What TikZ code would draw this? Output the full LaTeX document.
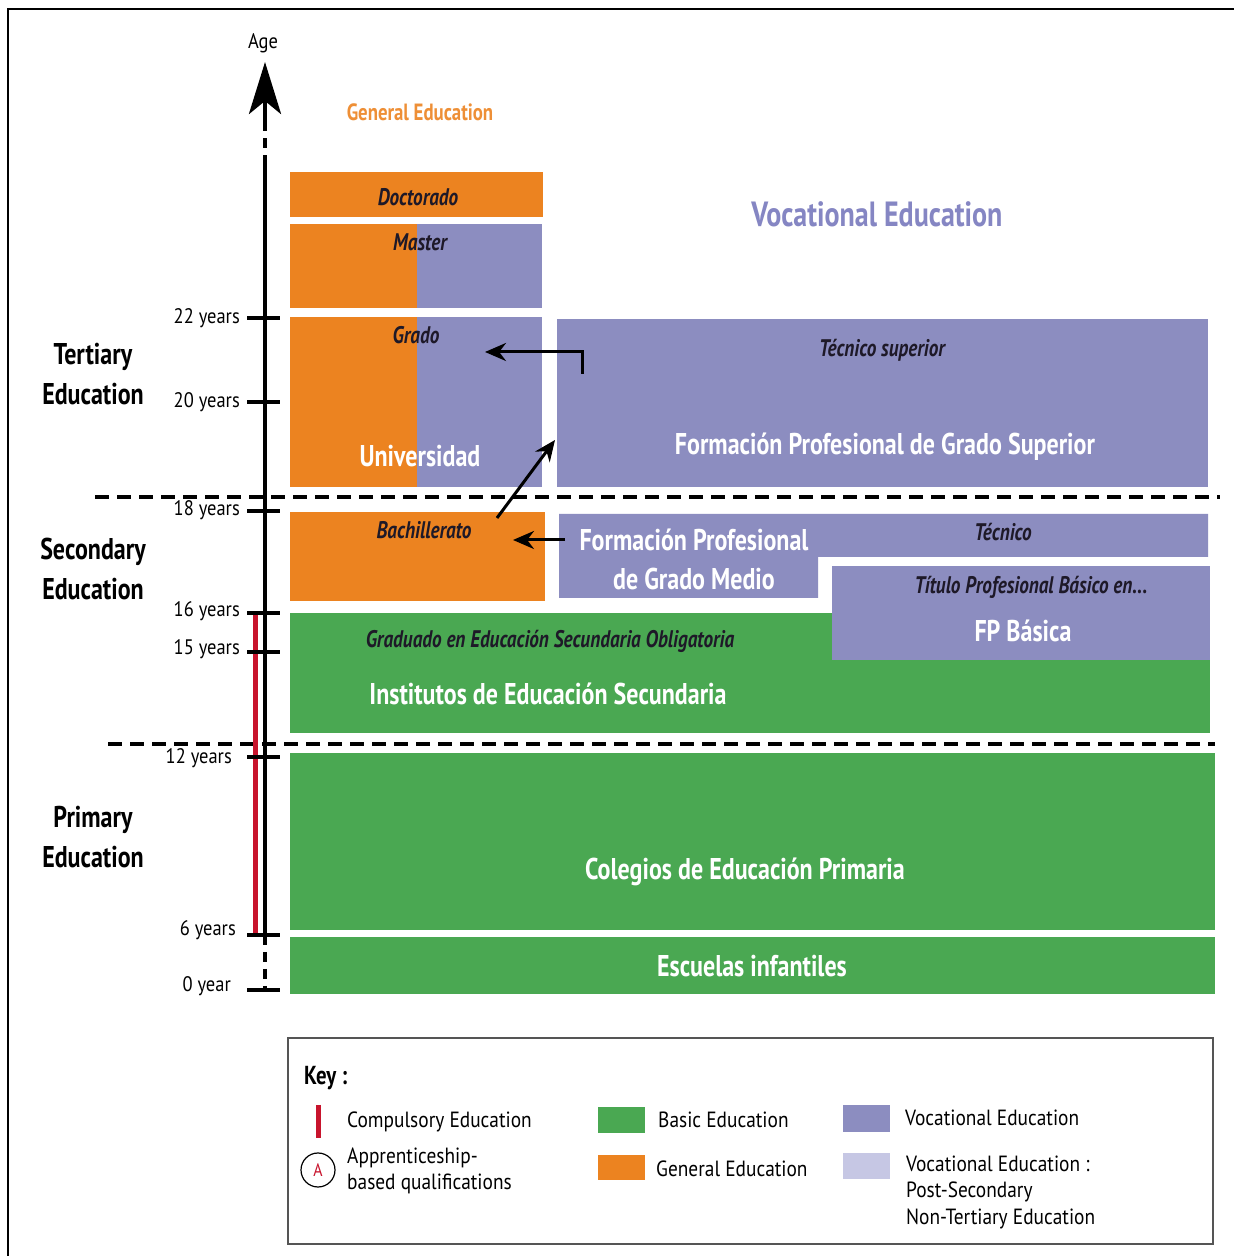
\documentclass[tikz,border=0pt]{standalone}
\usepackage{fontspec}
\setmainfont{PT Sans}
\newfontfamily\condfont{PT Sans}[FakeStretch=0.80]
\newfontfamily\labelfont{PT Sans}[FakeStretch=0.88]
\usetikzlibrary{arrows.meta}

\begin{document}
\begin{tikzpicture}[x=1pt,y=1pt,
  boxtext/.style={text=white,inner sep=0pt,font=\condfont\bfseries\fontsize{30}{39}\selectfont,align=center},
  tagtext/.style={text=inkColor,inner sep=0pt,font=\condfont\bfseries\itshape\fontsize{24}{26}\selectfont},
  agetext/.style={anchor=east,inner sep=0pt,font=\labelfont\fontsize{21}{23}\selectfont},
  leveltext/.style={align=center,inner sep=0pt,font=\condfont\bfseries\fontsize{30}{40}\selectfont},
  keytext/.style={anchor=west,inner sep=0pt,align=left,font=\labelfont\fontsize{22}{26.5}\selectfont},
  agetick/.style={line width=4pt},
  levelline/.style={line width=4pt,dash pattern=on 14pt off 8pt},
  flow/.style={draw=black,line width=3pt,-{Stealth[length=21pt,width=18pt]}},
  swatch/.style={line width=0pt}]
\definecolor{fillColor}{RGB}{255,255,255}
\definecolor{orangeColor}{RGB}{236,131,32}
\definecolor{greenColor}{RGB}{74,168,82}
\definecolor{purpleColor}{RGB}{140,141,192}
\definecolor{paleColor}{RGB}{198,199,228}
\definecolor{redColor}{RGB}{200,20,45}
\definecolor{inkColor}{RGB}{30,25,40}
\definecolor{keyColor}{RGB}{85,85,85}
\path[use as bounding box,fill=fillColor] (0,0) rectangle (1234,1256);

% frame
\path[draw=black,line width=2.5pt] (8,0) -- (8,1247) -- (1234,1247);

% general education column
\path[fill=orangeColor] (290,1084) rectangle (543,1039);
\path[fill=orangeColor] (290,1032) rectangle (417,948);
\path[fill=purpleColor] (417,1032) rectangle (542,948);
\path[fill=orangeColor] (290,939) rectangle (417,769);
\path[fill=purpleColor] (417,939) rectangle (542,769);
\path[fill=orangeColor] (290,744) rectangle (545,655);

% vocational education
\path[fill=purpleColor] (557,937) rectangle (1208,769);
\path[fill=purpleColor] (559,742) -- (1208,742) -- (1208,699) -- (818,699) --
	(818,658) -- (559,658) -- cycle;

% basic education
\path[fill=greenColor] (290,643) rectangle (1210,523);
\path[fill=purpleColor] (832,690) rectangle (1210,596);
\path[fill=greenColor] (290,503) rectangle (1215,326);
\path[fill=greenColor] (290,319) rectangle (1215,262);

% level separators
\path[draw=black,levelline] (95,759) -- (1220,759);
\path[draw=black,levelline] (108,512) -- (1215,512);

% age axis
\coordinate (axisTop) at (265,1194);
\coordinate (axisTail) at (265,1135);
\coordinate (axisHigh) at (265,1091);
\coordinate (axisLow) at (265,321);
\coordinate (axisEnd) at (265,266);
\path[draw=redColor,line width=5pt] (255,644) -- (255,321);
\path[draw=black,line width=4.5pt,dash pattern=on 10pt off 7pt] (axisHigh) -- (axisTail);
\path[draw=black,line width=4.5pt,dash pattern=on 10pt off 7pt] (axisLow) -- (axisEnd);
\path[draw=black,line width=4.5pt] (axisHigh) -- (axisLow);
\path[draw=black,line width=4.5pt,-{Stealth[length=52pt,width=32pt,inset=13pt]}] (axisTail) -- (axisTop);
\node (age) [inner sep=0pt,font=\labelfont\fontsize{21}{23}\selectfont] at (263,1213) {Age};

\foreach \yy/\lab/\ly/\lx in {938/22 years/938/240, 854/20 years/854/240,
	745/18 years/746/240, 643/16 years/645/240, 604/15 years/607/240,
	499/12 years/498/232, 321/6 years/326/236, 266/0 year/270/231}{
  \path[draw=black,agetick] (247,\yy) -- (280,\yy);
  \node[agetext] (age\ly) at (\lx,\ly) {\lab};
}

\node[leveltext] (tertiary) at (93,882) {Tertiary\\Education};
\node[leveltext] (secondary) at (93,687) {Secondary\\Education};
\node[leveltext] (primary) at (93,419) {Primary\\Education};

% titles
\node (generalTitle) [inner sep=0pt,text=orangeColor!90!white,font=\condfont\bfseries\fontsize{23.5}{25}\selectfont] at (420,1144) {General Education};
\node (vocTitle) [inner sep=0pt,text=purpleColor!95!blue,font=\condfont\bfseries\fontsize{35}{37}\selectfont] at (877,1042) {Vocational Education};

% box texts
\node[tagtext] (doctorado) at (418,1059) {Doctorado};
\node[tagtext] (master) at (420,1014) {Master};
\node[tagtext] (grado) at (416,921) {Grado};
\node[boxtext] (universidad) at (420,800) {Universidad};
\node[tagtext] (tecSuperior) at (882,906) {Técnico superior};
\node[boxtext] (fpSuperior) at (885,809) {Formación Profesional de Grado Superior};
\node[tagtext] (bachillerato) at (424,726) {Bachillerato};
\node[boxtext] (fpMedio) at (694,697) {Formación Profesional\\de Grado Medio};
\node[tagtext] (tecnico) at (1003,724) {Técnico};
\node[tagtext] (tituloBasico) at (1031,669) {Título Profesional Básico en...};
\node[boxtext] (fpBasica) at (1023,625) {FP Básica};
\node[tagtext] (graduado) at (550,615) {Graduado en Educación Secundaria Obligatoria};
\node[boxtext] (institutos) at (548,562) {Institutos de Educación Secundaria};
\node[boxtext] (colegios) at (745,384) {Colegios de Educación Primaria};
\node[boxtext] (escuelas) at (752,290) {Escuelas infantiles};

% pathways
\coordinate (supFrom) at (582,882);
\coordinate (gradoTo) at (485,904);
\coordinate (bachFrom) at (497,738);
\coordinate (uniTo) at (555,816);
\coordinate (medFrom) at (565,716);
\coordinate (bachTo) at (513,716);
\draw[flow] (supFrom) |- (gradoTo);
\draw[flow] (bachFrom) -- (uniTo);
\draw[flow] (medFrom) -- (bachTo);

% key
\path[draw=keyColor,line width=2pt] (288,218) rectangle (1213,12);
\node (keyTitle) [anchor=west,inner sep=0pt,font=\condfont\bfseries\fontsize{26}{28}\selectfont] at (304,178) {Key :};
\path[draw=redColor,line width=5pt] (318,151) -- (318,118);
\node[keytext] (keyCompulsory) at (347,134) {Compulsory Education};
\node (keyCircle) [circle,draw=black,line width=1.2pt,minimum size=34pt,inner sep=0pt,text=redColor,font=\labelfont\fontsize{18}{19}\selectfont] at (318,86) {A};
\node[keytext] (keyApprentice) at (347,85) {Apprenticeship-\\based qualifications};
\path[fill=greenColor] (598,149) rectangle (645,123);
\node[keytext] (keyBasic) at (658,136) {Basic Education};
\path[fill=orangeColor] (598,101) rectangle (645,76);
\node[keytext] (keyGeneral) at (656,87) {General Education};
\path[fill=purpleColor] (843,151) rectangle (890,124);
\node[keytext] (keyVoc) at (905,138) {Vocational Education};
\path[fill=paleColor] (843,103) rectangle (890,77);
\node[keytext] (keyPost) at (906,64) {Vocational Education :\\Post-Secondary\\Non-Tertiary Education};
\end{tikzpicture}
\end{document}
